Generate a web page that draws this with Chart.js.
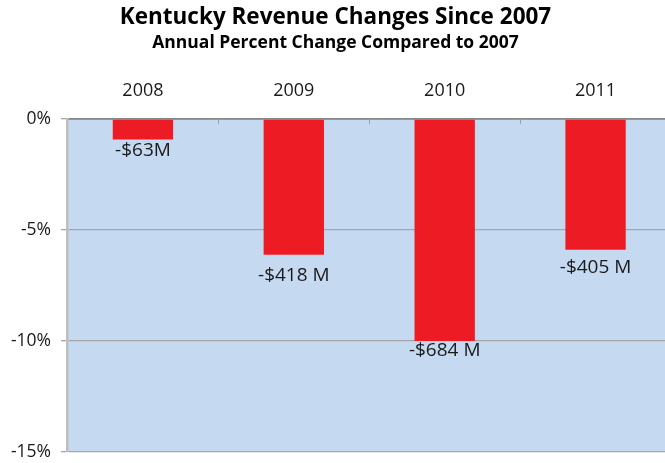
<!DOCTYPE html>
<html><head><meta charset="utf-8">
<script src="https://cdn.jsdelivr.net/npm/chart.js@4"></script>
<style>html,body{margin:0;padding:0;overflow:hidden;background:#fff}#wrap{width:671px;height:463px;position:relative}</style>
</head><body><div id="wrap"><canvas id="c"></canvas></div>
<script>
const categories = ['2008', '2009', '2010', '2011'];
const percentChange = [-0.92, -6.11, -10.0, -5.89];
const dollarLabels = ['-$63M', '-$418 M', '-$684 M', '-$405 M'];
const yMin = -15, yMax = 0, yStep = 5;

const FONT = "'Open Sans', 'DejaVu Sans', sans-serif";

const bgPlugin = {
  id: 'plotBg',
  beforeDraw(chart) {
    const a = chart.chartArea, ctx = chart.ctx;
    ctx.save();
    ctx.fillStyle = '#C5D9F1';
    ctx.fillRect(a.left, a.top, a.right - a.left, a.bottom - a.top);
    ctx.restore();
  }
};

const labelPlugin = {
  id: 'barLabels',
  afterDatasetsDraw(chart, args, opts) {
    const ctx = chart.ctx;
    const meta = chart.getDatasetMeta(0);
    ctx.save();
    ctx.font = "19px " + FONT;
    ctx.fillStyle = '#1a1a1a';
    ctx.textAlign = 'center';
    ctx.textBaseline = 'alphabetic';
    meta.data.forEach((bar, i) => {
      ctx.fillText(dollarLabels[i], bar.x, bar.y + opts.offsets[i]);
    });
    const xs = chart.scales.x, top = chart.chartArea.top;
    ctx.strokeStyle = '#A0A0A0';
    ctx.lineWidth = 1;
    for (let i = 1; i < categories.length; i++) {
      const px = Math.round((xs.getPixelForValue(i - 1) + xs.getPixelForValue(i)) / 2) + 0.5;
      ctx.beginPath();
      ctx.moveTo(px, top);
      ctx.lineTo(px, top + 5);
      ctx.stroke();
    }
    ctx.restore();
  }
};

new Chart(document.getElementById('c'), {
  type: 'bar',
  data: {
    labels: categories,
    datasets: [{
      data: percentChange,
      backgroundColor: '#ED1C24',
      borderWidth: 0,
      categoryPercentage: 1.0,
      barPercentage: 0.4
    }]
  },
  plugins: [bgPlugin, labelPlugin],
  options: {
    responsive: true,
    maintainAspectRatio: false,
    animation: false,
    layout: { padding: { left: 0, right: 0, top: 0, bottom: 11 } },
    plugins: {
      legend: { display: false },
      tooltip: { enabled: false },
      title: {
        display: true,
        text: 'Kentucky Revenue Changes Since 2007',
        color: '#000',
        font: { family: FONT, size: 22.5, weight: 'bold' },
        padding: { top: 4, bottom: 0 }
      },
      subtitle: {
        display: true,
        text: 'Annual Percent Change Compared to 2007',
        color: '#000',
        font: { family: FONT, size: 17.5, weight: 'bold' },
        padding: { top: 1.5, bottom: 0 }
      },
      barLabels: { offsets: [17, 26, 15, 23] }
    },
    scales: {
      x: {
        position: 'top',
        z: 1,
        grid: { display: true, drawOnChartArea: false, drawTicks: false, color: 'rgba(0,0,0,0)' },
        border: { display: true, color: 'rgba(110,110,110,0.55)', width: 2 },
        ticks: { color: '#1a1a1a', font: { family: FONT, size: 18 }, padding: 17 },
        afterFit(scale) { scale.height = 65.5; scale.paddingLeft = 0; scale.paddingRight = 0; }
      },
      y: {
        min: yMin,
        max: yMax,
        ticks: {
          stepSize: yStep,
          color: '#1a1a1a',
          font: { family: FONT, size: 17.5 },
          padding: 10,
          callback: v => v + '%'
        },
        grid: { color: '#A6A6A6', lineWidth: 1.3, tickLength: 6.5, drawTicks: true, tickColor: '#A6A6A6' },
        border: { display: true, color: '#BEBEBE', width: 2.5 },
        afterFit(scale) { scale.width = 67.5; scale.paddingTop = 0; scale.paddingBottom = 0; }
      }
    }
  }
});
</script>
</body></html>
